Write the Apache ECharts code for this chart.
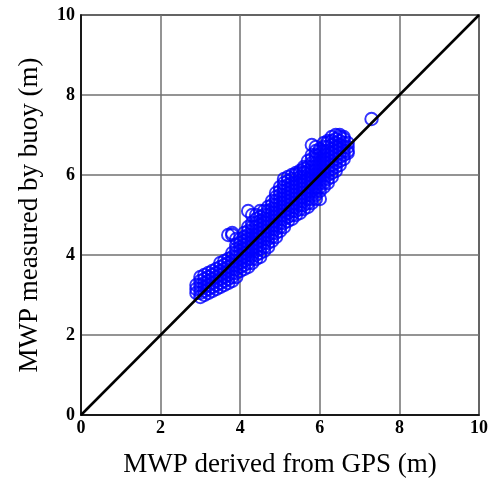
<!DOCTYPE html>
<html>
<head>
<meta charset="utf-8">
<script src="https://cdn.jsdelivr.net/npm/echarts@6/dist/echarts.min.js"></script>
<style>
  html, body { margin: 0; padding: 0; background: #fff; }
  #chart { width: 491px; height: 483px; }
</style>
</head>
<body>
<div id="chart"></div>
<script>
// axis ticks
var tickValues = [0, 2, 4, 6, 8, 10];

var gpsColumns = [2.9, 3.0, 3.1, 3.2, 3.3, 3.4, 3.5, 3.6, 3.7, 3.8, 3.9, 4.0, 4.1, 4.2, 4.3, 4.4, 4.5, 4.6, 4.7, 4.8,
  4.9, 5.0, 5.1, 5.2, 5.3, 5.4, 5.5, 5.6, 5.7, 5.8, 5.9, 6.0, 6.1, 6.2, 6.3, 6.4, 6.5, 6.6, 6.7, 7.3];
var buoyColumns = [
  [3.05, 3.15, 3.25],
  [2.95, 3.05, 3.15, 3.25, 3.35, 3.45],
  [3.0, 3.1, 3.2, 3.3, 3.4, 3.5],
  [3.05, 3.15, 3.25, 3.35, 3.45, 3.55],
  [3.1, 3.2, 3.3, 3.4, 3.5, 3.6],
  [3.15, 3.25, 3.35, 3.45, 3.55, 3.65],
  [3.2, 3.3, 3.4, 3.5, 3.6, 3.7, 3.8],
  [3.25, 3.35, 3.45, 3.55, 3.65, 3.75, 3.85],
  [3.3, 3.4, 3.5, 3.6, 3.7, 3.8, 3.9, 4.5],
  [3.35, 3.45, 3.55, 3.65, 3.75, 3.85, 3.95, 4.05, 4.5, 4.55],
  [3.45, 3.55, 3.65, 3.75, 3.85, 3.95, 4.05, 4.15, 4.25, 4.4],
  [3.6, 3.7, 3.8, 3.9, 4.0, 4.1, 4.2, 4.3, 4.4],
  [3.65, 3.75, 3.85, 3.95, 4.05, 4.15, 4.25, 4.35, 4.45, 4.55],
  [3.7, 3.8, 3.9, 4.0, 4.1, 4.2, 4.3, 4.4, 4.5, 4.6, 4.7, 5.1],
  [3.8, 3.9, 4.0, 4.1, 4.2, 4.3, 4.4, 4.5, 4.6, 4.7, 4.8, 5.0],
  [3.9, 4.0, 4.1, 4.2, 4.3, 4.4, 4.5, 4.6, 4.7, 4.8, 4.9, 5.0],
  [3.95, 4.05, 4.15, 4.25, 4.35, 4.45, 4.55, 4.65, 4.75, 4.85, 4.95, 5.1],
  [4.1, 4.2, 4.3, 4.4, 4.5, 4.6, 4.7, 4.8, 4.9, 5.0, 5.1],
  [4.2, 4.3, 4.4, 4.5, 4.6, 4.7, 4.8, 4.9, 5.0, 5.1, 5.2],
  [4.35, 4.45, 4.55, 4.65, 4.75, 4.85, 4.95, 5.05, 5.15, 5.25, 5.35],
  [4.45, 4.55, 4.65, 4.75, 4.85, 4.95, 5.05, 5.15, 5.25, 5.35, 5.45, 5.55],
  [4.6, 4.7, 4.8, 4.9, 5.0, 5.1, 5.2, 5.3, 5.4, 5.5, 5.6, 5.7],
  [4.7, 4.8, 4.9, 5.0, 5.1, 5.2, 5.3, 5.4, 5.5, 5.6, 5.7, 5.8, 5.9],
  [4.85, 4.95, 5.05, 5.15, 5.25, 5.35, 5.45, 5.55, 5.65, 5.75, 5.85, 5.95],
  [4.9, 5.0, 5.1, 5.2, 5.3, 5.4, 5.5, 5.6, 5.7, 5.8, 5.9, 6.0],
  [5.0, 5.1, 5.2, 5.3, 5.4, 5.5, 5.6, 5.7, 5.8, 5.9, 6.0, 6.05],
  [5.05, 5.15, 5.25, 5.35, 5.45, 5.55, 5.65, 5.75, 5.85, 5.95, 6.05, 6.1],
  [5.15, 5.25, 5.35, 5.45, 5.55, 5.65, 5.75, 5.85, 5.95, 6.05, 6.15, 6.2],
  [5.2, 5.3, 5.4, 5.5, 5.6, 5.7, 5.8, 5.9, 6.0, 6.1, 6.2, 6.35],
  [5.3, 5.4, 5.5, 5.6, 5.7, 5.8, 5.9, 6.0, 6.1, 6.2, 6.3, 6.4, 6.5, 6.75],
  [5.4, 5.5, 5.6, 5.7, 5.8, 5.9, 6.0, 6.1, 6.2, 6.3, 6.4, 6.5, 6.6, 6.7],
  [5.4, 5.6, 5.7, 5.8, 5.9, 6.0, 6.1, 6.2, 6.3, 6.4, 6.5, 6.6, 6.65],
  [5.7, 5.8, 5.9, 6.0, 6.1, 6.2, 6.3, 6.4, 6.5, 6.6, 6.7, 6.8],
  [5.8, 5.9, 6.0, 6.1, 6.2, 6.3, 6.4, 6.5, 6.6, 6.7, 6.8, 6.85],
  [5.95, 6.05, 6.15, 6.25, 6.35, 6.45, 6.55, 6.65, 6.75, 6.85, 6.95],
  [6.1, 6.2, 6.3, 6.4, 6.5, 6.6, 6.7, 6.8, 6.9, 7.0],
  [6.25, 6.35, 6.45, 6.55, 6.65, 6.75, 6.85, 6.95, 7.0],
  [6.4, 6.5, 6.6, 6.7, 6.8, 6.9, 6.95],
  [6.55, 6.6, 6.7, 6.8],
  [7.4]
];
// 1:1 reference line
var lineX = [0, 10];
var lineY = [0, 10];

var points = [];
for (var i = 0; i < gpsColumns.length; i++) {
  for (var j = 0; j < buoyColumns[i].length; j++) {
    points.push([gpsColumns[i], buoyColumns[i][j]]);
  }
}

var labelFont = { color: '#000', fontFamily: 'Liberation Serif', fontWeight: 'bold', fontSize: 18 };
var nameFont = { color: '#000', fontFamily: 'Liberation Serif', fontSize: 27 };

var chart = echarts.init(document.getElementById('chart'), null, { renderer: 'canvas' });
chart.setOption({
  animation: false,
  grid: {
    left: 81, top: 15, right: 7, bottom: 66,
    show: true, borderColor: '#000', borderWidth: 1.5
  },
  xAxis: {
    type: 'value', min: 0, max: 10, interval: 2,
    name: 'MWP derived from GPS (m)', nameLocation: 'middle', nameGap: 36,
    nameTextStyle: nameFont,
    axisLine: { show: true, lineStyle: { color: '#000', width: 1.5 } },
    axisTick: { show: false },
    axisLabel: Object.assign({ margin: 4 }, labelFont),
    splitLine: { show: true, lineStyle: { color: '#707070', width: 1.5 } }
  },
  yAxis: {
    type: 'value', min: 0, max: 10, interval: 2,
    name: 'MWP measured by buoy (m)', nameLocation: 'middle', nameGap: 38,
    nameTextStyle: nameFont,
    axisLine: { show: true, lineStyle: { color: '#000', width: 1.5 } },
    axisTick: { show: false },
    axisLabel: Object.assign({ margin: 6 }, labelFont),
    splitLine: { show: true, lineStyle: { color: '#707070', width: 1.5 } }
  },
  series: [
    {
      type: 'scatter',
      data: points,
      symbol: 'circle',   // hollow ring, no fill, so overlapping rings all show
      symbolSize: 12.5,
      itemStyle: { color: 'rgba(0,0,0,0)', borderColor: '#0000ff', borderWidth: 1.9 },
      z: 2
    },
    {
      type: 'line',
      data: [[lineX[0], lineY[0]], [lineX[1], lineY[1]]],
      showSymbol: false,
      lineStyle: { color: '#000', width: 2.5 },
      z: 3
    }
  ]
});
</script>
</body>
</html>
